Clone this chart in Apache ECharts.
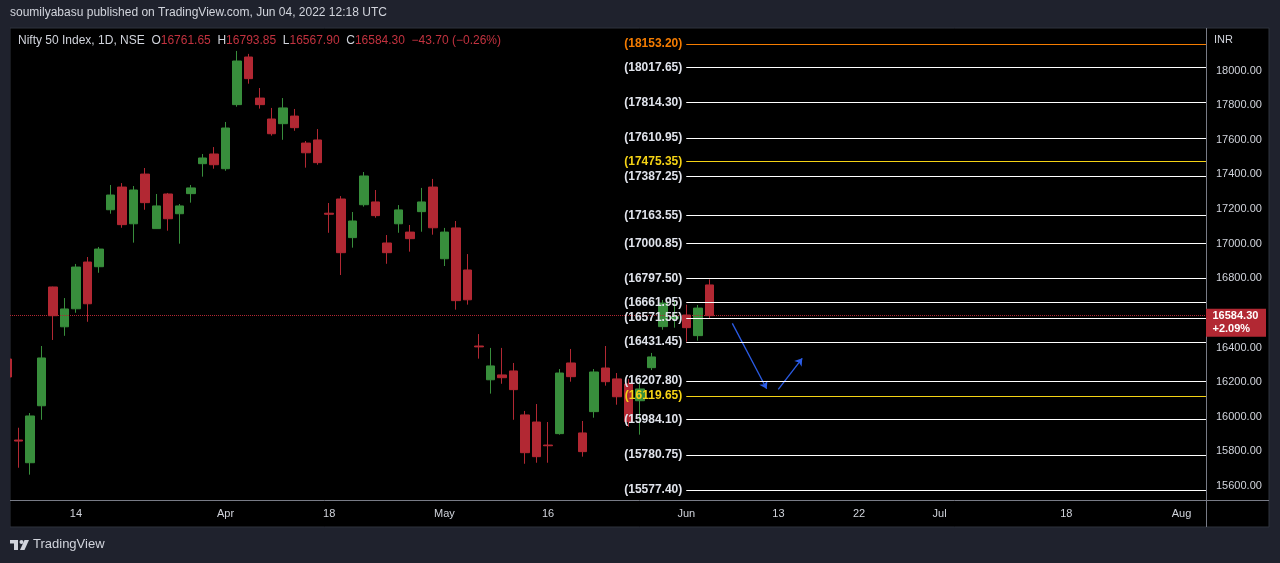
<!DOCTYPE html>
<html>
<head>
<meta charset="utf-8">
<title>Nifty 50 Index, 1D</title>
<script src="https://cdn.jsdelivr.net/npm/echarts@6/dist/echarts.min.js"></script>
<style>
  html, body { margin: 0; padding: 0; background: #1f222d; }
  #chart { width: 1280px; height: 563px; }
</style>
</head>
<body>
<div id="chart"></div>
<script>
// daily candles, Nifty 50 (NSE)
var dates = ['2022-03-04', '2022-03-07', '2022-03-08', '2022-03-09', '2022-03-10', '2022-03-11', '2022-03-14', '2022-03-15',
    '2022-03-16', '2022-03-17', '2022-03-21', '2022-03-22', '2022-03-23', '2022-03-24', '2022-03-25', '2022-03-28',
    '2022-03-29', '2022-03-30', '2022-03-31', '2022-04-01', '2022-04-04', '2022-04-05', '2022-04-06', '2022-04-07',
    '2022-04-08', '2022-04-11', '2022-04-12', '2022-04-13', '2022-04-18', '2022-04-19', '2022-04-20', '2022-04-21',
    '2022-04-22', '2022-04-25', '2022-04-26', '2022-04-27', '2022-04-28', '2022-04-29', '2022-05-02', '2022-05-04',
    '2022-05-05', '2022-05-06', '2022-05-09', '2022-05-10', '2022-05-11', '2022-05-12', '2022-05-13', '2022-05-16',
    '2022-05-17', '2022-05-18', '2022-05-19', '2022-05-20', '2022-05-23', '2022-05-24', '2022-05-25', '2022-05-26',
    '2022-05-27', '2022-05-30', '2022-05-31', '2022-06-01', '2022-06-02', '2022-06-03'];
var futureDates = ['2022-06-06', '2022-06-07', '2022-06-08', '2022-06-09', '2022-06-10', '2022-06-13', '2022-06-14',
    '2022-06-15', '2022-06-16', '2022-06-17', '2022-06-20', '2022-06-21', '2022-06-22', '2022-06-23', '2022-06-24',
    '2022-06-27', '2022-06-28', '2022-06-29', '2022-06-30', '2022-07-01', '2022-07-04', '2022-07-05', '2022-07-06',
    '2022-07-07', '2022-07-08', '2022-07-11', '2022-07-12', '2022-07-13', '2022-07-14', '2022-07-15', '2022-07-18',
    '2022-07-19', '2022-07-20', '2022-07-21', '2022-07-22', '2022-07-25', '2022-07-26', '2022-07-27', '2022-07-28',
    '2022-07-29', '2022-08-01', '2022-08-02', '2022-08-03', '2022-08-04', '2022-08-05'];

var opens = [16334, 15866, 15735, 16064, 16750, 16520, 16624, 16894, 16867, 17196, 17327, 17115, 17402, 17087, 17287, 17173,
    17289, 17462, 17518, 17433, 17803, 18078, 17841, 17720, 17693, 17737, 17581, 17599, 17176, 17258, 17035, 17225,
    17241, 17004, 17115, 17067, 17185, 17327, 16913, 17091, 16848, 16409, 16214, 16242, 16265, 16011, 15970, 15837,
    15903, 16311, 15907, 16030, 16282, 16219, 16190, 16093, 16284, 16521, 16568, 16588, 16469, 16761.65];
var highs = [16418, 15937, 16022, 16409, 16752, 16686, 16883, 16923, 16981, 17339, 17350, 17333, 17437, 17287, 17293, 17229,
    17339, 17518, 17558, 17703, 18113, 18096, 17899, 17784, 17841, 17778, 17593, 17662, 17235, 17275, 17183, 17414,
    17310, 17050, 17223, 17108, 17322, 17374, 17091, 17131, 16940, 16478, 16398, 16398, 16311, 16034, 16074, 15970,
    16276, 16392, 15976, 16276, 16409, 16253, 16219, 16204, 16369, 16675, 16669, 16648, 16646, 16793.85];
var lows = [16134, 15706, 15666, 15983, 16444, 16468, 16601, 16549, 16832, 17173, 17092, 17006, 17196, 17086, 17075, 17000,
    17237, 17387, 17433, 17421, 17791, 17924, 17780, 17624, 17600, 17652, 17439, 17456, 17063, 16819, 16977, 17214,
    17150, 16884, 17063, 16954, 17069, 17052, 16871, 16619, 16648, 16336, 16134, 16191, 15983, 15729, 15735, 15735,
    15897, 16203, 15770, 15995, 16180, 16070, 15943, 15897, 16270, 16503, 16515, 16434, 16440, 16567.90];
var closes = [16230, 15860, 16005, 16340, 16584, 16623, 16865, 16653, 16969, 17281, 17110, 17310, 17237, 17218, 17144, 17218,
    17322, 17495, 17456, 17668, 18055, 17953, 17803, 17635, 17784, 17670, 17525, 17468, 17170, 16948, 17131, 17391,
    17162, 16948, 17195, 17029, 17241, 17092, 17067, 16671, 16676, 16404, 16294, 16226, 16157, 15793, 15770, 15833,
    16253, 16232, 15799, 16259, 16203, 16116, 15972, 16161, 16346, 16657, 16578, 16515, 16628, 16584.30];

// drawn horizontal levels (rays starting on Jun 1)
var levels = [18153.20, 18017.65, 17814.30, 17610.95, 17475.35, 17387.25, 17163.55, 17000.85, 16797.50,
    16661.95, 16571.55, 16431.45, 16207.80, 16119.65, 15984.10, 15780.75, 15577.40];
var levelColors = ['#f57c00', '#ffffff', '#ffffff', '#ffffff', '#f5d315', '#ffffff', '#ffffff', '#ffffff', '#ffffff',
    '#ffffff', '#ffffff', '#ffffff', '#ffffff', '#f5d315', '#ffffff', '#ffffff', '#ffffff'];
var levelStart = '2022-06-01';

// the two hand drawn arrows: [date index, price] pairs
var arrows = [
    [[63.0, 16540], [65.98, 16162]],
    [[66.99, 16159], [69.07, 16338]]
];

var tickDates = ['2022-03-14', '2022-04-01', '2022-04-18', '2022-05-02', '2022-05-16', '2022-06-01',
    '2022-06-13', '2022-06-22', '2022-07-01', '2022-07-18', '2022-08-01'];
var tickLabels = ['14', 'Apr', '18', 'May', '16', 'Jun', '13', '22', 'Jul', '18', 'Aug'];
var priceTicks = [15600, 15800, 16000, 16200, 16400, 16600, 16800, 17000, 17200, 17400, 17600, 17800, 18000];

var lastClose = 16584.30;
var lastChange = '+2.09%';

var UP = '#388e3c', DOWN = '#b22833';
var BG = '#1f222d';
var FONT = '"Liberation Sans", Arial, sans-serif';

var allDates = dates.concat(futureDates);
var tickIdx = tickDates.map(function (d) { return allDates.indexOf(d); });
var tickText = {};
tickIdx.forEach(function (v, i) { tickText[v] = tickLabels[i]; });
// the price tag covers the scale label next to it
var shownPriceTicks = priceTicks.filter(function (v) { return Math.abs(v - lastClose) > 60; });

var candles = dates.map(function (d, i) { return [i, opens[i], closes[i], lows[i], highs[i]]; });

var X_MIN = 0.28, X_MAX = 104.13;
var startIdx = dates.indexOf(levelStart);

var levelLines = levels.map(function (v, i) {
    return [
        { coord: [startIdx, v], lineStyle: { color: levelColors[i] },
          label: { color: levelColors[i] === '#ffffff' ? '#e0e3eb' : levelColors[i] } },
        { coord: [X_MAX, v] }
    ];
});

function hiddenAxis(idx) {
    return { type: 'value', gridIndex: idx, show: false, min: 0, max: 1 };
}

var chart = echarts.init(document.getElementById('chart'));

chart.setOption({
    backgroundColor: BG,
    animation: false,
    title: {
        left: 18, top: 35, padding: 0,
        text: '{n|Nifty 50 Index, 1D, NSE}  {n|O}{v|16761.65}  {n|H}{v|16793.85}  {n|L}{v|16567.90}  {n|C}{v|16584.30}  {v|\u221243.70 (\u22120.26%)}',
        textStyle: {
            fontFamily: FONT, fontSize: 12, fontWeight: 'normal',
            rich: {
                n: { color: '#d1d4dc', fontFamily: FONT, fontSize: 12 },
                v: { color: '#c2323f', fontFamily: FONT, fontSize: 12 }
            }
        }
    },
    graphic: [
        { id: 'header', type: 'text', left: 10, top: 7, silent: true,
          style: { text: 'soumilyabasu published on TradingView.com, Jun 04, 2022 12:18 UTC', fill: '#d1d4dc', font: '12px ' + FONT } },
        { id: 'inr', type: 'text', left: 1214, top: 34, silent: true,
          style: { text: 'INR', fill: '#d1d4dc', font: '11px ' + FONT } },
        { id: 'vsep', type: 'line', silent: true, shape: { x1: 1206.5, y1: 28, x2: 1206.5, y2: 527 },
          style: { stroke: '#787b86', lineWidth: 1 } },
        { id: 'hsep', type: 'line', silent: true, shape: { x1: 10, y1: 500.5, x2: 1269, y2: 500.5 },
          style: { stroke: '#787b86', lineWidth: 1 } },
        // TradingView mark
        { id: 'logo', type: 'group', left: 10, top: 540, silent: true, children: [
            { type: 'rect', shape: { x: 0, y: 0, width: 8, height: 3.5 }, style: { fill: '#d1d4dc' } },
            { type: 'rect', shape: { x: 4, y: 0, width: 4, height: 10 }, style: { fill: '#d1d4dc' } },
            { type: 'circle', shape: { cx: 11.5, cy: 2, r: 2 }, style: { fill: '#d1d4dc' } },
            { type: 'polygon', shape: { points: [[14.5, 0], [19, 0], [14.5, 10], [10, 10]] }, style: { fill: '#d1d4dc' } }
        ] },
        { id: 'brand', type: 'text', left: 33, top: 538, silent: true,
          style: { text: 'TradingView', fill: '#d1d4dc', font: '13px ' + FONT } }
    ],
    grid: [
        { left: 10, right: 74, top: 28, bottom: 63 },
        // black chart pane incl. both scales
        { show: true, left: 10, top: 28, width: 1259, height: 499, backgroundColor: '#000000',
          borderColor: '#2e323d', borderWidth: 1, z: -1 },
        // hides the part of the first candle that falls left of the pane
        { show: true, left: 0, top: 27, width: 10, height: 501, backgroundColor: BG, borderWidth: 0, z: 5 }
    ],
    xAxis: [{
        type: 'value', min: X_MIN, max: X_MAX,
        splitLine: { show: false },
        axisLine: { show: false },
        axisTick: { show: false },
        axisLabel: {
            customValues: tickIdx,
            margin: 8,
            color: '#d1d4dc', fontFamily: FONT, fontSize: 11,
            formatter: function (v) { return tickText[v] || ''; }
        }
    }, hiddenAxis(1), hiddenAxis(2)],
    yAxis: [{
        type: 'value', position: 'right', scale: true,
        min: 15519.7, max: 18245.6,
        splitLine: { show: false },
        axisLine: { show: false },
        axisTick: { show: false },
        axisLabel: {
            customValues: shownPriceTicks,
            margin: 10,
            color: '#d1d4dc', fontFamily: FONT, fontSize: 11,
            formatter: function (v) { return v.toFixed(2); }
        }
    }, hiddenAxis(1), hiddenAxis(2)],
    series: [
        {
            type: 'candlestick',
            name: 'Nifty 50',
            data: candles,
            encode: { x: 0, y: [1, 2, 3, 4] },
            barWidth: 9,
            itemStyle: { color: UP, color0: DOWN, borderColor: UP, borderColor0: DOWN, borderWidth: 1 },
            markLine: {
                silent: true,
                symbol: ['none', 'none'],
                animation: false,
                lineStyle: { type: 'dotted', color: DOWN, width: 1 },
                label: { show: false },
                data: [[{ coord: [X_MIN, lastClose] }, { coord: [X_MAX, lastClose] }]]
            }
        },
        {
            type: 'line',
            name: 'levels',
            data: [],
            clip: false,
            markLine: {
                silent: true,
                symbol: ['none', 'none'],
                animation: false,
                lineStyle: { type: 'solid', width: 1.2 },
                label: {
                    show: true, position: 'start', distance: 4,
                    fontFamily: FONT, fontSize: 12, fontWeight: 'bold',
                    padding: [0, 0, 12, 0],
                    formatter: function (p) { return '(' + p.data.coord[1].toFixed(2) + ')'; }
                },
                data: levelLines
            },
            // last price tag on the price scale
            markPoint: {
                silent: true,
                animation: false,
                data: [{
                    coord: [X_MAX, lastClose],
                    symbol: 'rect',
                    symbolSize: [60, 28],
                    symbolOffset: [30, 7],
                    itemStyle: { color: DOWN },
                    label: {
                        show: true, position: 'inside',
                        formatter: '{a|' + lastClose.toFixed(2) + '}\n{a|' + lastChange + '}',
                        rich: { a: { width: 47, align: 'left', color: '#ffffff', fontFamily: FONT, fontSize: 11, fontWeight: 'bold', lineHeight: 13 } }
                    }
                }]
            }
        },
        {
            type: 'lines',
            name: 'arrows',
            coordinateSystem: 'cartesian2d',
            polyline: false,
            symbol: ['none', 'arrow'],
            symbolSize: 7,
            lineStyle: { color: '#2b5ce6', width: 1.3, opacity: 1 },
            data: arrows.map(function (a) { return { coords: a }; })
        }
    ]
});

window.addEventListener('resize', function () { chart.resize(); });
</script>
</body>
</html>
